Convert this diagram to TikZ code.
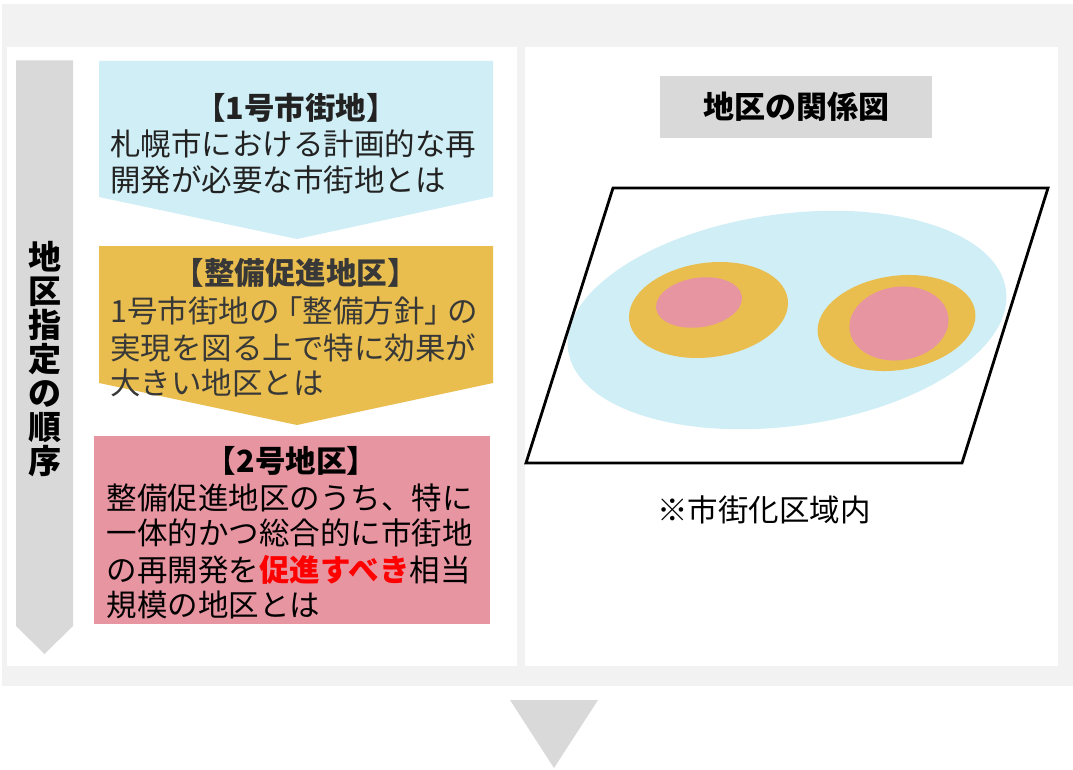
\documentclass[tikz,border=0pt]{standalone}
\usepackage{fontspec}
\setmainfont{Noto Sans CJK JP}
\definecolor{outergrey}{HTML}{F2F2F2}
\definecolor{bargrey}{HTML}{D9D9D9}
\definecolor{lblue}{HTML}{D0EEF5}
\definecolor{lorange}{HTML}{E9BE4E}
\definecolor{lpink}{HTML}{E895A2}
\definecolor{bluetxt}{HTML}{222222}
\definecolor{orangetxt}{HTML}{383838}
\definecolor{hired}{HTML}{FF0000}
\tikzset{
  bodyfont/.style={font=\fontsize{30.5}{36}\selectfont},
  ttl/.style={anchor=base, inner sep=0pt, font=\bfseries\fontsize{30.5}{36}\selectfont},
  bline/.style={anchor=base west, inner sep=0pt, bodyfont},
}
\begin{document}
\begin{tikzpicture}[x=1pt,y=-1pt]
\useasboundingbox (0,0) rectangle (1073,770);
\fill[white] (0,0) rectangle (1073,770);
% outer frame
\fill[outergrey] (2,4) rectangle (1073,686);
\fill[white] (7,47) rectangle (516.5,665.7);
\fill[white] (525,47) rectangle (1058,665.7);
% left order bar
\fill[bargrey] (16,60.5) -- (73,60.5) -- (73,626) -- (44.5,654) -- (16,626) -- cycle;
\node[align=center, inner sep=0pt, font=\bfseries\fontsize{33}{34}\selectfont] (order) at (44.5,359)
  {地\\区\\指\\定\\の\\順\\序};
% blue block
\fill[lblue] (99,61) -- (493,61) -- (493,196.5) -- (297,239) -- (99,197) -- cycle;
\node[ttl, text=bluetxt] (t1) at (296,119.1) {【1号市街地】};
\node[bline, text=bluetxt] (b1a) at (110,155.6) {札幌市における計画的な再};
\node[bline, text=bluetxt] (b1b) at (110,191.6) {開発が必要な市街地とは};
% orange block
\fill[lorange] (99,246) -- (493,246) -- (493,383) -- (297,425) -- (99,383) -- cycle;
\node[ttl, text=orangetxt] (t2) at (295.5,284.9) {【整備促進地区】};
\node[bline, text=orangetxt] (b2a) at (110,322.6) {1号市街地の\kern-0.25em「整備方針」\kern-0.25em の};
\node[bline, text=orangetxt] (b2b) at (110,359.1) {実現を図る上で特に効果が};
\node[bline, text=orangetxt] (b2c) at (110,394.1) {大きい地区とは};
% pink block
\fill[lpink] (94,436) rectangle (490,623.7);
\node[ttl, text=black] (t3) at (291.5,472.4) {【2号地区】};
\node[bline, text=black] (b3a) at (106.5,509.1) {整備促進地区のうち、特に};
\node[bline, text=black] (b3b) at (106.5,544.6) {一体的かつ総合的に市街地};
\node[bline, text=black] (b3c) at (106.5,581.6) {の再開発を{\bfseries\color{hired}促進すべき}相当};
\node[bline, text=black] (b3d) at (106.5,616.6) {規模の地区とは};
% right panel title
\fill[bargrey] (660,76) rectangle (932,138);
\node[anchor=base, inner sep=0pt, font=\bfseries\fontsize{31}{36}\selectfont] (rt) at (796,118.8) {地区の関係図};
% ellipses
\fill[lblue, rotate around={7.8:(787,320)}] (787,320) ellipse [x radius=221, y radius=106];
\fill[lorange, rotate around={7.7:(708.5,310)}] (708.5,310) ellipse [x radius=80, y radius=47.2];
\fill[lpink, rotate around={8.3:(699,302.5)}] (699,302.5) ellipse [x radius=43.3, y radius=24.7];
\fill[lorange, rotate around={8.4:(896.5,323)}] (896.5,323) ellipse [x radius=79.5, y radius=47.1];
\fill[lpink, rotate around={8.4:(899,323.5)}] (899,323.5) ellipse [x radius=49.8, y radius=36.7];
% parallelogram
\draw[line width=2.8pt, line join=miter] (613,188) -- (1048,188) -- (962,463) -- (526,463) -- cycle;
\node[anchor=base, inner sep=0pt, bodyfont] (note) at (764,521.8) {※市街化区域内};
% bottom arrow
\fill[bargrey] (510,700) -- (598,700) -- (554,768) -- cycle;
\end{tikzpicture}
\end{document}
